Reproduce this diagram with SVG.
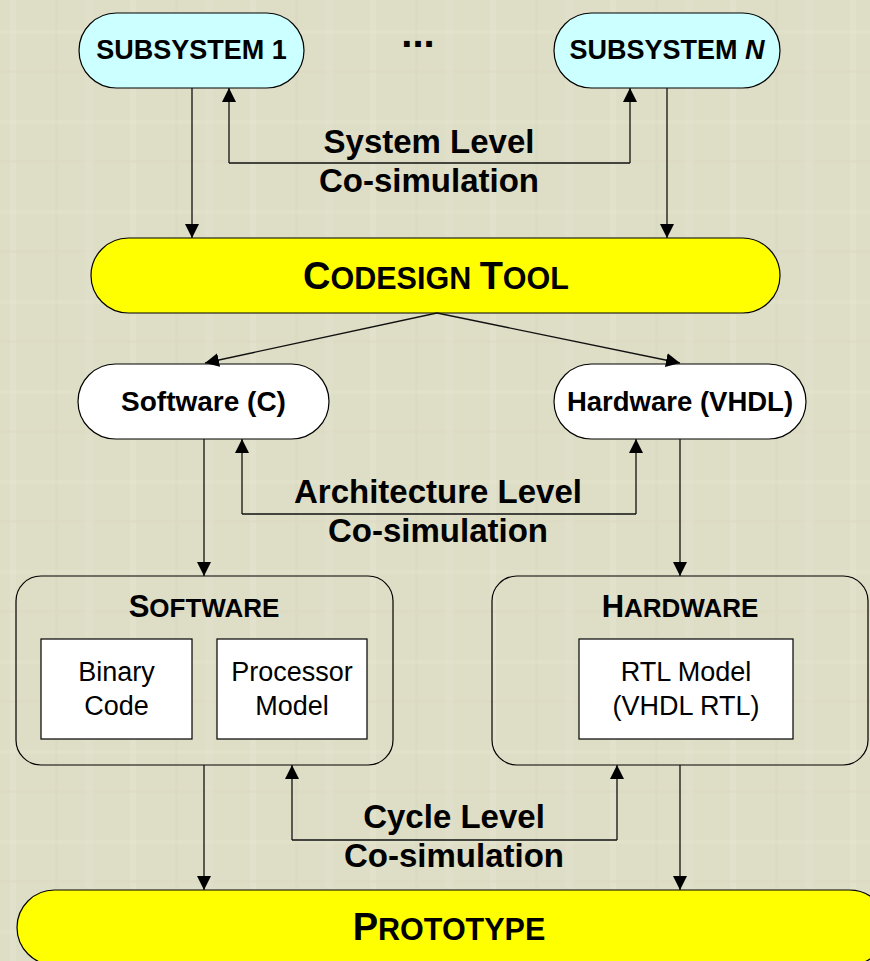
<svg xmlns="http://www.w3.org/2000/svg" width="870" height="961" viewBox="0 0 870 961">
<defs>
<pattern id="tex" width="120" height="90" patternUnits="userSpaceOnUse">
<rect width="120" height="90" fill="#DEDDC6"/>
<rect x="10" y="0" width="6" height="90" fill="#E6E5CF" opacity="0.5"/>
<rect x="55" y="0" width="3" height="90" fill="#D7D6BE" opacity="0.4"/>
<rect x="0" y="30" width="120" height="4" fill="#E6E5D0" opacity="0.4"/>
<rect x="0" y="70" width="120" height="3" fill="#D8D7BF" opacity="0.35"/>
<rect x="85" y="0" width="8" height="90" fill="#E3E2CC" opacity="0.4"/>
</pattern>
<marker id="ah" viewBox="0 0 14 14" refX="14" refY="7" markerWidth="14" markerHeight="14" markerUnits="userSpaceOnUse" orient="auto">
<path d="M0,0 L14,7 L0,14 Z" fill="#000"/>
</marker>
</defs>
<style>
.bub{stroke:#000;stroke-width:1.2}
.box{fill:none;stroke:#000;stroke-width:1.2}
.inner{fill:#fff;stroke:#000;stroke-width:1.2}
.con{fill:none;stroke:#111;stroke-width:1.3}
.arr{marker-end:url(#ah)}
text{font-family:"Liberation Sans",Arial,sans-serif;fill:#000;text-anchor:middle}
.b{font-weight:bold}
.lab{font-weight:bold;font-size:33px}
.reg{font-size:27px}
</style>
<rect width="870" height="961" fill="url(#tex)"/>

<g id="subsystem1">
<rect class="bub" x="79" y="13" width="225" height="75" rx="37.5" fill="#CCFFFF"/>
<text class="b" x="191.5" y="59" font-size="27">SUBSYSTEM 1</text>
</g>
<g id="dots">
<text class="b" x="418" y="47" font-size="40">...</text>
</g>
<g id="subsystemN">
<rect class="bub" x="554" y="13" width="226" height="75" rx="37.5" fill="#CCFFFF"/>
<text class="b" x="667" y="59" font-size="27">SUBSYSTEM <tspan font-style="italic">N</tspan></text>
</g>
<g id="codesign">
<rect class="bub" x="91" y="238" width="689" height="75" rx="37.5" fill="#FFFF00"/>
<text class="b" x="436" y="289"><tspan font-size="38">C</tspan><tspan font-size="30.5">ODESIGN </tspan><tspan font-size="38">T</tspan><tspan font-size="30.5">OOL</tspan></text>
</g>
<g id="sw_c">
<rect class="bub" x="78" y="364" width="251" height="75" rx="37.5" fill="#FFFFFF"/>
<text class="b" x="203.5" y="411" font-size="28">Software (C)</text>
</g>
<g id="hw_vhdl">
<rect class="bub" x="554" y="364" width="252" height="75" rx="37.5" fill="#FFFFFF"/>
<text class="b" x="680" y="411" font-size="27.5">Hardware (VHDL)</text>
</g>
<g id="software">
<rect class="box" x="16" y="576" width="377" height="189" rx="25"/>
<text class="b" x="204" y="617"><tspan font-size="31">S</tspan><tspan font-size="26">OFTWARE</tspan></text>
<g id="binary">
<rect class="inner" x="41" y="639" width="151" height="100"/>
<text class="reg" x="116.5" y="681">Binary</text>
<text class="reg" x="116.5" y="715">Code</text>
</g>
<g id="processor">
<rect class="inner" x="217" y="639" width="150" height="100"/>
<text class="reg" x="292" y="681">Processor</text>
<text class="reg" x="292" y="715">Model</text>
</g>
</g>
<g id="hardware">
<rect class="box" x="492" y="576" width="376" height="189" rx="25"/>
<text class="b" x="680" y="617"><tspan font-size="31">H</tspan><tspan font-size="26">ARDWARE</tspan></text>
<g id="rtl">
<rect class="inner" x="579" y="639" width="214" height="100"/>
<text class="reg" x="686" y="681">RTL Model</text>
<text class="reg" x="686" y="715">(VHDL RTL)</text>
</g>
</g>
<g id="prototype">
<rect class="bub" x="17" y="890" width="870" height="75" rx="37.5" fill="#FFFF00"/>
<text class="b" x="449" y="940"><tspan font-size="38">P</tspan><tspan font-size="30.5">ROTOTYPE</tspan></text>
</g>

<g id="connectors">
<line class="con arr" x1="192" y1="88" x2="192" y2="238"/>
<line class="con arr" x1="667" y1="88" x2="667" y2="238"/>
<polyline class="con arr" points="229,163 229,88"/>
<polyline class="con" points="229,163 630,163"/>
<polyline class="con arr" points="630,163 630,88"/>
<line class="con arr" x1="437" y1="313" x2="205" y2="363"/>
<line class="con arr" x1="437" y1="313" x2="680" y2="363"/>
<line class="con arr" x1="204" y1="439" x2="204" y2="576"/>
<line class="con arr" x1="680" y1="439" x2="680" y2="576"/>
<polyline class="con arr" points="242,514 242,439"/>
<polyline class="con" points="242,514 636,514"/>
<polyline class="con arr" points="636,514 636,439"/>
<line class="con arr" x1="204" y1="765" x2="204" y2="890"/>
<line class="con arr" x1="680" y1="765" x2="680" y2="890"/>
<polyline class="con arr" points="292,840 292,765"/>
<polyline class="con" points="292,840 617,840"/>
<polyline class="con arr" points="617,840 617,765"/>
</g>

<g id="labels">
<text class="lab" x="429" y="153">System Level</text>
<text class="lab" x="429" y="192">Co-simulation</text>
<text class="lab" x="438" y="503">Architecture Level</text>
<text class="lab" x="438" y="542">Co-simulation</text>
<text class="lab" x="454" y="828">Cycle Level</text>
<text class="lab" x="454" y="867">Co-simulation</text>
</g>
</svg>
